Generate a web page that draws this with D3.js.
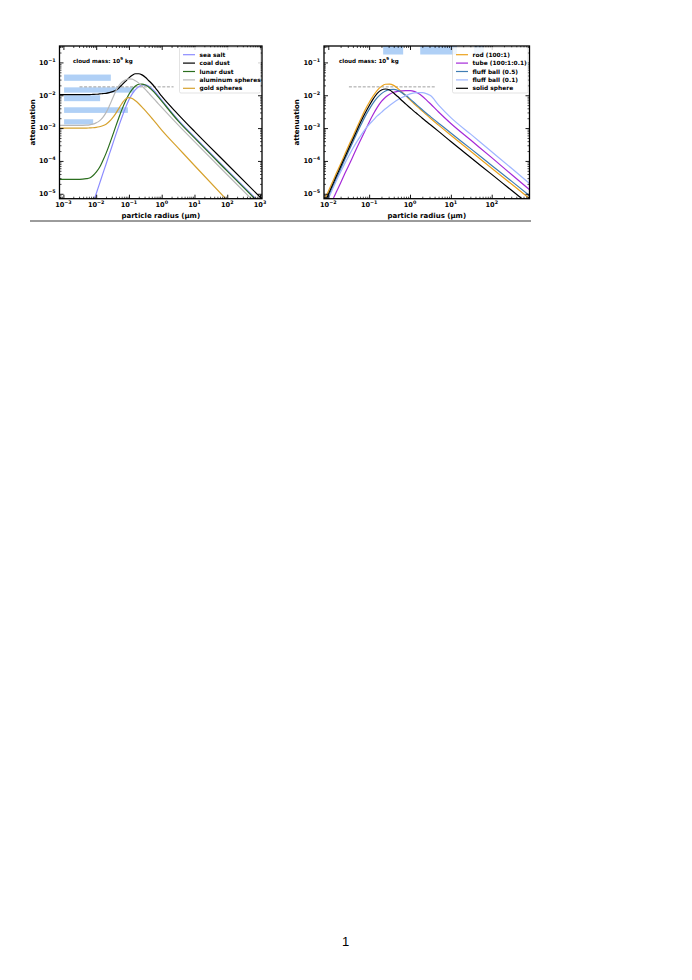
<!DOCTYPE html>
<html>
<head>
<meta charset="utf-8">
<script src="https://cdn.jsdelivr.net/npm/d3@7"></script>
<style>
  body { margin: 0; background: #fff; }
  text { font-family: "DejaVu Sans", sans-serif; font-weight: bold; fill: #000; }
</style>
</head>
<body>
<svg id="page" width="692" height="980"></svg>
<script>
// ---- left panel data (radius in µm, attenuation) ----
const radiusLeft = [0.00076, 0.00316, 0.005, 0.0063, 0.0079, 0.01, 0.0126, 0.0158, 0.02, 0.0251, 0.0316, 0.0398,
  0.0501, 0.0631, 0.0794, 0.1, 0.126, 0.158, 0.2, 0.251, 0.316, 0.398, 0.501, 0.631, 0.794, 1, 3.16, 10, 100, 1150];

const seaSalt = [null, null, 1.26e-6, 2.51e-6, 5.01e-6, 1.0e-5, 2.0e-5, 3.98e-5, 7.94e-5, 1.585e-4, 3.16e-4, 6.31e-4,
  1.23e-3, 2.34e-3, 4.27e-3, 7.24e-3, 1.096e-2, 1.479e-2, 1.82e-2, 2.04e-2, 2.065e-2, 1.905e-2, 1.585e-2, 1.26e-2,
  9.55e-3, 7.08e-3, 1.78e-3, 5.37e-4, 5.25e-5, 4.57e-6];
const coalDust = [1.047e-2, 1.047e-2, 1.047e-2, 1.047e-2, 1.059e-2, 1.072e-2, 1.096e-2, 1.122e-2, 1.148e-2, 1.202e-2,
  1.288e-2, 1.413e-2, 1.698e-2, 2.138e-2, 2.692e-2, 3.388e-2, 4.074e-2, 4.52e-2, 4.52e-2, 4.169e-2, 3.548e-2,
  2.818e-2, 2.239e-2, 1.698e-2, 1.259e-2, 9.33e-3, 2.63e-3, 7.94e-4, 7.94e-5, 6.92e-6];
const lunarDust = [2.754e-5, 2.754e-5, 2.884e-5, 3.02e-5, 3.548e-5, 4.571e-5, 6.31e-5, 1.0e-4, 1.698e-4, 3.09e-4,
  5.888e-4, 1.148e-3, 2.188e-3, 3.981e-3, 6.761e-3, 1.072e-2, 1.514e-2, 1.905e-2, 2.163e-2, 2.188e-2, 2.042e-2,
  1.778e-2, 1.445e-2, 1.148e-2, 8.71e-3, 6.607e-3, 1.66e-3, 5.012e-4, 4.898e-5, 4.266e-6];
const aluminumSpheres = [1.202e-3, 1.202e-3, 1.23e-3, 1.259e-3, 1.318e-3, 1.445e-3, 1.66e-3, 2.089e-3, 2.951e-3,
  4.677e-3, 7.943e-3, 1.349e-2, 1.995e-2, 2.57e-2, 2.951e-2, 3.162e-2, 3.09e-2, 2.754e-2, 2.344e-2, 1.905e-2,
  1.514e-2, 1.175e-2, 9.12e-3, 7.079e-3, 5.495e-3, 4.266e-3, 1.259e-3, 3.89e-4, 3.802e-5, 3.311e-6];
const goldSpheres = [1.0e-3, 1.0e-3, 1.0e-3, 1.012e-3, 1.023e-3, 1.047e-3, 1.096e-3, 1.175e-3, 1.318e-3, 1.585e-3,
  2.042e-3, 2.818e-3, 4.074e-3, 5.888e-3, 7.762e-3, 8.511e-3, 7.943e-3, 6.761e-3, 5.495e-3, 4.365e-3, 3.388e-3,
  2.63e-3, 1.995e-3, 1.514e-3, 1.148e-3, 8.71e-4, 2.512e-4, 7.244e-5, 6.31e-6, 5.01e-7];

const leftNames = ['sea salt', 'coal dust', 'lunar dust', 'aluminum spheres', 'gold spheres'];
const leftColors = ['#8c8cff', '#000000', '#2b6e1e', '#b8b8b8', '#d6a22e'];
const leftSeries = [seaSalt, coalDust, lunarDust, aluminumSpheres, goldSpheres];

// shaded bands, left panel: [r0, r1, a0, a1]
const leftBandR0 = [0.00105, 0.00105, 0.00105, 0.00105, 0.00105];
const leftBandR1 = [0.028, 0.145, 0.0132, 0.093, 0.0081];
const leftBandA0 = [0.0275, 0.012, 0.0066, 0.0029, 0.00129];
const leftBandA1 = [0.0427, 0.0174, 0.01, 0.0043, 0.00186];

// ---- right panel data ----
const radiusRight = [0.0063, 0.0079, 0.01, 0.0126, 0.0158, 0.02, 0.0251, 0.0316, 0.0398, 0.0501, 0.0631, 0.0794,
  0.1, 0.126, 0.158, 0.2, 0.251, 0.316, 0.398, 0.501, 0.631, 0.794, 1, 1.26, 1.58, 2, 2.51, 3.16, 5.01, 10, 31.6,
  100, 316, 891];

const rod = [3.162e-6, 6.31e-6, 1.175e-5, 2.239e-5, 4.266e-5, 8.128e-5, 1.549e-4, 2.951e-4, 5.495e-4, 1.047e-3,
  1.95e-3, 3.548e-3, 6.026e-3, 9.55e-3, 1.413e-2, 1.862e-2, 2.163e-2, 2.188e-2, 1.995e-2, 1.622e-2, 1.259e-2,
  9.55e-3, 7.244e-3, 5.495e-3, 4.266e-3, 3.311e-3, 2.57e-3, 1.995e-3, 1.23e-3, 6.026e-4, 1.905e-4, 6.026e-5,
  1.905e-5, 6.761e-6];
const tube = [1.0e-6, 1.862e-6, 3.388e-6, 6.31e-6, 1.148e-5, 2.138e-5, 3.981e-5, 7.244e-5, 1.349e-4, 2.512e-4,
  4.571e-4, 8.318e-4, 1.514e-3, 2.63e-3, 4.266e-3, 6.457e-3, 8.71e-3, 1.072e-2, 1.23e-2, 1.318e-2, 1.365e-2,
  1.38e-2, 1.38e-2, 1.318e-2, 1.148e-2, 9.333e-3, 7.244e-3, 5.495e-3, 3.09e-3, 1.38e-3, 4.169e-4, 1.259e-4,
  3.715e-5, 1.259e-5];
const fluffBall05 = [2.239e-6, 4.266e-6, 8.128e-6, 1.549e-5, 2.951e-5, 5.623e-5, 1.072e-4, 1.995e-4, 3.715e-4,
  6.918e-4, 1.259e-3, 2.239e-3, 3.715e-3, 5.888e-3, 8.511e-3, 1.122e-2, 1.349e-2, 1.479e-2, 1.514e-2, 1.413e-2,
  1.202e-2, 9.772e-3, 7.762e-3, 6.026e-3, 4.677e-3, 3.631e-3, 2.818e-3, 2.239e-3, 1.413e-3, 7.079e-4, 2.291e-4,
  7.244e-5, 2.344e-5, 8.318e-6];
const fluffBall01 = [1.778e-6, 3.548e-6, 7.079e-6, 1.349e-5, 2.512e-5, 4.571e-5, 8.128e-5, 1.413e-4, 2.399e-4,
  3.89e-4, 6.026e-4, 9.12e-4, 1.288e-3, 1.738e-3, 2.344e-3, 3.02e-3, 3.89e-3, 4.898e-3, 6.026e-3, 7.244e-3,
  8.511e-3, 9.772e-3, 1.096e-2, 1.175e-2, 1.202e-2, 1.202e-2, 1.122e-2, 9.772e-3, 5.012e-3, 2.089e-3, 6.31e-4,
  1.905e-4, 5.754e-5, 1.95e-5];
const solidSphere = [2.512e-6, 5.012e-6, 9.55e-6, 1.82e-5, 3.467e-5, 6.607e-5, 1.259e-4, 2.399e-4, 4.467e-4,
  8.511e-4, 1.585e-3, 2.818e-3, 4.786e-3, 7.762e-3, 1.148e-2, 1.445e-2, 1.549e-2, 1.445e-2, 1.175e-2, 9.12e-3,
  6.918e-3, 5.37e-3, 4.169e-3, 3.236e-3, 2.57e-3, 1.995e-3, 1.585e-3, 1.259e-3, 7.943e-4, 3.89e-4, 1.23e-4,
  3.89e-5, 1.23e-5, 4.365e-6];

const rightNames = ['rod (100:1)', 'tube (100:1:0.1)', 'fluff ball (0.5)', 'fluff ball (0.1)', 'solid sphere'];
const rightColors = ['#eba21c', '#a52ad8', '#3f7db3', '#9fb6ff', '#000000'];
const rightSeries = [rod, tube, fluffBall05, fluffBall01, solidSphere];

// shaded bands, right panel (top strip)
const rightBandR0 = [0.22, 1.78, 37];
const rightBandR1 = [0.68, 14.1, 65];
const rightBandA0 = [0.174, 0.174, 0.174];
const rightBandA1 = [0.5, 0.5, 0.5];

// dashed reference level
const refLevel = 0.018;
const refLeft = [0.0031, 2.3];
const refRight = [0.032, 4.1];

const xTicksLeft = [1e-3, 1e-2, 1e-1, 1e0, 1e1, 1e2, 1e3];
const xTicksRight = [1e-2, 1e-1, 1e0, 1e1, 1e2];
const yTicks = [1e-5, 1e-4, 1e-3, 1e-2, 1e-1];

const svg = d3.select('#page');
const yDomain = [7.08e-6, 0.316];

function supLabel(sel, v) {
  const e = Math.round(Math.log10(v));
  sel.append('tspan').text('10');
  sel.append('tspan').attr('dy', -3).attr('font-size', 4.8).text(e < 0 ? '\u2212' + (-e) : String(e));
}

function drawPanel(cfg) {
  const { x0, x1, y0, y1, id } = cfg;
  const x = d3.scaleLog().domain(cfg.xDomain).range([x0, x1]);
  const y = d3.scaleLog().domain(yDomain).range([y1, y0]);
  const g = svg.append('g');

  g.append('clipPath').attr('id', id)
    .append('rect').attr('x', x0).attr('y', y0).attr('width', x1 - x0).attr('height', y1 - y0);
  const plot = g.append('g').attr('clip-path', `url(#${id})`);

  // bands
  plot.selectAll('rect.band')
    .data(cfg.bandR0.map((r, i) => [r, cfg.bandR1[i], cfg.bandA0[i], cfg.bandA1[i]]))
    .join('rect')
    .attr('class', 'band')
    .attr('x', d => x(d[0]))
    .attr('width', d => x(d[1]) - x(d[0]))
    .attr('y', d => y(d[3]))
    .attr('height', d => y(d[2]) - y(d[3]))
    .attr('fill', '#b0d0f6');

  // dashed level
  plot.append('line')
    .attr('x1', x(cfg.ref[0])).attr('x2', x(cfg.ref[1]))
    .attr('y1', y(refLevel)).attr('y2', y(refLevel))
    .attr('stroke', '#777').attr('stroke-width', 0.7).attr('stroke-dasharray', '3,1.6');

  const line = d3.line()
    .defined(d => d[1] != null)
    .x(d => x(d[0]))
    .y(d => y(d[1]))
    .curve(d3.curveMonotoneX);

  plot.selectAll('path.curve')
    .data(cfg.series.map((s, i) => ({ pts: cfg.radius.map((r, j) => [r, s[j]]), color: cfg.colors[i] })))
    .join('path')
    .attr('class', 'curve')
    .attr('d', d => line(d.pts))
    .attr('fill', 'none')
    .attr('stroke', d => d.color)
    .attr('stroke-width', 1.2);

  // ticks on all sides, pointing inward
  const minorX = x.ticks().filter(v => !cfg.xTicks.some(t => Math.abs(t / v - 1) < 1e-6));
  const minorY = y.ticks().filter(v => !yTicks.some(t => Math.abs(t / v - 1) < 1e-6));
  const axes = [
    [d3.axisBottom(x), `translate(0,${y1})`, minorX, cfg.xTicks],
    [d3.axisTop(x), `translate(0,${y0})`, minorX, cfg.xTicks],
    [d3.axisLeft(y), `translate(${x0},0)`, minorY, yTicks],
    [d3.axisRight(y), `translate(${x1},0)`, minorY, yTicks]
  ];
  axes.forEach(([ax, tr, minor, major]) => {
    g.append('g').attr('transform', tr)
      .call(ax.tickValues(minor).tickSize(-2).tickFormat(''))
      .call(s => s.select('.domain').remove())
      .selectAll('line').attr('stroke-width', 0.7);
    g.append('g').attr('transform', tr)
      .call(ax.tickValues(major).tickSize(-4).tickFormat(''))
      .call(s => s.select('.domain').remove())
      .selectAll('line').attr('stroke-width', 0.9);
  });

  g.append('rect')
    .attr('x', x0).attr('y', y0).attr('width', x1 - x0).attr('height', y1 - y0)
    .attr('fill', 'none').attr('stroke', '#000').attr('stroke-width', 1.3);

  // tick labels
  g.selectAll('text.xl').data(cfg.xTicks).join('text')
    .attr('class', 'xl')
    .attr('x', d => x(d)).attr('y', y1 + 8.5)
    .attr('text-anchor', 'middle').attr('font-size', 6.6)
    .each(function (d) { supLabel(d3.select(this), d); });
  g.selectAll('text.yl').data(yTicks).join('text')
    .attr('class', 'yl')
    .attr('x', x0 - 4).attr('y', d => y(d) + 2.4)
    .attr('text-anchor', 'end').attr('font-size', 6.6)
    .each(function (d) { supLabel(d3.select(this), d); });

  // axis titles
  g.append('text')
    .attr('x', (x0 + x1) / 2).attr('y', 218)
    .attr('text-anchor', 'middle').attr('font-size', 7)
    .text('particle radius (\u00b5m)');
  g.append('text')
    .attr('transform', `translate(${x0 - 25},${(y0 + y1) / 2}) rotate(-90)`)
    .attr('text-anchor', 'middle').attr('font-size', 7)
    .text('attenuation');

  // annotation
  const ann = g.append('text').attr('x', cfg.annX).attr('y', 62.5).attr('font-size', 5.6);
  ann.append('tspan').text('cloud mass: 10');
  ann.append('tspan').attr('dy', -2.4).attr('font-size', 4).text('9');
  ann.append('tspan').attr('dy', 2.4).text(' kg');

  // legend
  const lg = g.append('g');
  lg.append('rect')
    .attr('x', cfg.legX).attr('y', y0 + 1.5).attr('width', x1 - 1.5 - cfg.legX).attr('height', 45.5)
    .attr('rx', 1.5)
    .attr('fill', '#fff').attr('fill-opacity', 0.8)
    .attr('stroke', '#d0d0d0').attr('stroke-width', 0.6);
  const items = lg.selectAll('g.item').data(cfg.names).join('g')
    .attr('class', 'item')
    .attr('transform', (d, i) => `translate(${cfg.legX + 3.5},${y0 + 8.7 + i * 8.4})`);
  items.append('line')
    .attr('x1', 0).attr('x2', 12).attr('y1', 0).attr('y2', 0)
    .attr('stroke', (d, i) => cfg.colors[i]).attr('stroke-width', 1.2);
  items.append('text')
    .attr('x', 16.5).attr('y', 2.1).attr('font-size', 5.9)
    .text(d => d);
}

drawPanel({
  id: 'clipL', x0: 59.5, x1: 262, y0: 46, y1: 198.7,
  xDomain: [7.6e-4, 1150], xTicks: xTicksLeft,
  radius: radiusLeft, series: leftSeries, colors: leftColors, names: leftNames,
  bandR0: leftBandR0, bandR1: leftBandR1, bandA0: leftBandA0, bandA1: leftBandA1,
  ref: refLeft, annX: 73, legX: 179.5
});

drawPanel({
  id: 'clipR', x0: 324, x1: 529.5, y0: 46, y1: 198.7,
  xDomain: [7.85e-3, 841], xTicks: xTicksRight,
  radius: radiusRight, series: rightSeries, colors: rightColors, names: rightNames,
  bandR0: rightBandR0, bandR1: rightBandR1, bandA0: rightBandA0, bandA1: rightBandA1,
  ref: refRight, annX: 339, legX: 452.5
});

// page rule and page number
svg.append('line')
  .attr('x1', 30).attr('x2', 531).attr('y1', 221).attr('y2', 221)
  .attr('stroke', '#222').attr('stroke-width', 0.9);
svg.append('text')
  .attr('x', 345.5).attr('y', 946)
  .attr('text-anchor', 'middle')
  .attr('font-size', 13).attr('font-weight', 'normal')
  .style('font-weight', 'normal')
  .style('font-family', '"Liberation Sans", sans-serif')
  .text('1');
</script>
</body>
</html>
